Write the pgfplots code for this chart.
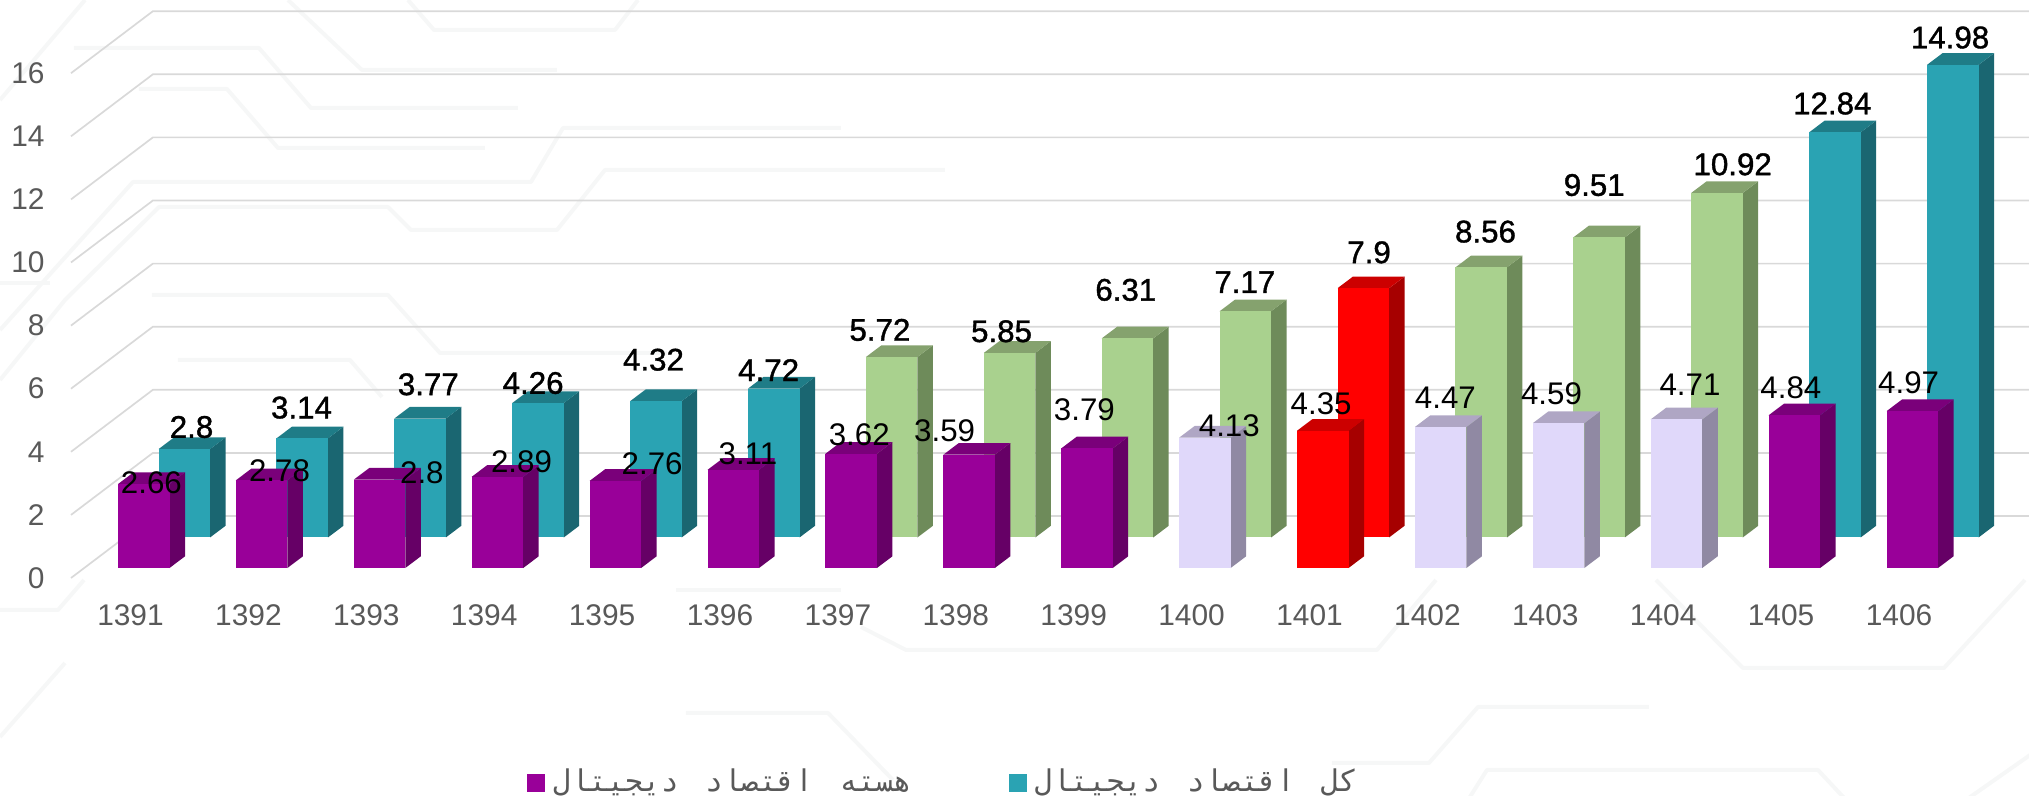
\documentclass[border=0pt]{standalone}
\usepackage{pgfplots}
\usepackage{pgfplotstable}
\usepackage{fontspec}
\pgfplotsset{compat=1.18}
\setmainfont{Liberation Sans}
\newfontfamily\fbold[FakeBold=1.2]{Liberation Sans}
\newfontfamily\arabicfont[Script=Arabic,WordSpace=1.47]{DejaVu Sans Mono}
\TeXXeTstate=1
% colours: F front, S side, T top
\definecolor{pF}{HTML}{990099}\definecolor{pS}{HTML}{660066}\definecolor{pT}{HTML}{7A007A}
\definecolor{tF}{HTML}{2AA3B3}\definecolor{tS}{HTML}{1A6671}\definecolor{tT}{HTML}{1F7C87}
\definecolor{gF}{HTML}{A9D18E}\definecolor{gS}{HTML}{6E8B5A}\definecolor{gT}{HTML}{85A26E}
\definecolor{lF}{HTML}{E0D8FA}\definecolor{lS}{HTML}{9089A3}\definecolor{lT}{HTML}{AFA6C4}
\definecolor{rF}{HTML}{FF0000}\definecolor{rS}{HTML}{A60000}\definecolor{rT}{HTML}{CC0000}
\definecolor{gridc}{HTML}{D9D9D9}
\definecolor{txt}{HTML}{595959}
\definecolor{bgl}{HTML}{F6F7F7}
% i value colour labelx labely (label centres in px of the 1568-wide view)
\pgfplotstableread{
i v c lx ly
0 2.66 p 117 373
1 2.78 p 216 364
2 2.8 p 326 365
3 2.89 p 403 357
4 2.76 p 504 358
5 3.11 p 578 351
6 3.62 p 664 336
7 3.59 p 730 333
8 3.79 p 838 317
9 4.13 l 950 329
10 4.35 r 1021 312
11 4.47 l 1117 307
12 4.59 l 1199 304
13 4.71 l 1306 297
14 4.84 p 1384 300
15 4.97 p 1475 296
}\core
\pgfplotstableread{
i v c lx ly
0 2.8 t 148 330
1 3.14 t 233 315
2 3.77 t 331 297
3 4.26 t 412 296
4 4.32 t 505 278
5 4.72 t 594 286
6 5.72 g 680 255
7 5.85 g 774 256
8 6.31 g 870 224
9 7.17 g 962 218
10 7.9 r 1058 195
11 8.56 g 1148 179
12 9.51 g 1232 143
13 10.92 g 1339 127
14 12.84 t 1416 80
15 14.98 t 1507 29
}\total
% one 3-D bar: #1 table, #2 row, #3 left offset, #4 base height
\newcommand\threedbar[4]{%
  \pgfplotstablegetelem{#2}{v}\of#1\let\bv\pgfplotsretval
  \pgfplotstablegetelem{#2}{c}\of#1\let\bc\pgfplotsretval
  \pgfmathsetmacro\xa{#2+#3}\pgfmathsetmacro\xb{\xa+0.437}\pgfmathsetmacro\xc{\xb+0.1315}\pgfmathsetmacro\xd{\xa+0.1315}
  \pgfmathsetmacro\ya{#4}\pgfmathsetmacro\yb{#4+\bv}\pgfmathsetmacro\yc{\yb+0.371}\pgfmathsetmacro\yd{\ya+0.371}
  \edef\tmp{%
    \noexpand\addplot[draw=none,fill=\bc S,forget plot] coordinates {(\xb,\ya) (\xc,\yd) (\xc,\yc) (\xb,\yb)};
    \noexpand\addplot[draw=none,fill=\bc T,forget plot] coordinates {(\xa,\yb) (\xd,\yc) (\xc,\yc) (\xb,\yb)};
    \noexpand\addplot[draw=none,fill=\bc F,forget plot] coordinates {(\xa,\ya) (\xb,\ya) (\xb,\yb) (\xa,\yb)};
  }\tmp}
\begin{document}
\begin{tikzpicture}
% faint circuit pattern of the slide background (reference pixels)
\begin{scope}[shift={(-35.5bp,289bp)},x=0.5bp,y=-0.5bp,draw=bgl,line width=2bp,line join=round]
\draw (74,48)--(259,48)--(311,108)--(518,108);
\draw (139,89)--(227,89)--(278,148)--(485,148);
\draw (288,0)--(362,70)--(557,70);
\draw (408,0)--(434,30)--(615,30)--(638,0);
\draw (841,128)--(563,128)--(531,182)--(133,182)--(60,263)--(0,330);
\draw (945,170)--(605,170)--(557,230)--(411,230)--(388,207)--(159,207)--(65,300)--(0,380);
\draw (152,295)--(388,295)--(440,353)--(667,353);
\draw (178,360)--(350,360)--(382,397);
\draw (85,0)--(0,100);
\draw (0,283)--(50,283);
\draw (676,590)--(841,590);
\draw (861,627)--(906,650)--(1377,650)--(1436,580);
\draw (686,713)--(828,713)--(893,780);
\draw (65,663)--(0,737);
\draw (0,610)--(58,610)--(84,580);
\draw (1656,580)--(1743,668)--(1944,668)--(2025,580);
\draw (1649,707)--(1478,707)--(1429,763)--(1332,763);
\draw (1468,800)--(1487,770)--(1818,770)--(1846,800);
\draw (1966,800)--(2033,753);
\end{scope}
\begin{axis}[name=a,scale only axis,width=979bp,height=289bp,
  xmin=-0.5047,xmax=16.1026,ymin=0,ymax=18.32,clip=false,
  axis line style={draw=none},major tick length=0pt,
  ytick={0,2,...,16},xtick={0,...,15},
  xticklabels={1391,1392,1393,1394,1395,1396,1397,1398,1399,1400,1401,1402,1403,1404,1405,1406},
  /pgf/number format/assume math mode=true,
  tick label style={font=\fontsize{15}{15}\selectfont,text=txt},
  yticklabel style={anchor=east,inner sep=0pt,xshift=-13bp},
  xticklabel style={anchor=north,inner sep=0pt,yshift=-13bp},
  legend columns=2,
  legend style={at={(axis cs:3.36,-6.5)},anchor=west,draw=none,fill=none,inner sep=0pt,
    font=\fontsize{15}{15}\selectfont,text=txt,
    /tikz/every even column/.style={column sep=46.5bp},
    /tikz/every odd column/.style={column sep=2bp}},
]
% grid: side wall and back wall
\pgfplotsinvokeforeach{0,2,...,16}{
  \pgfmathsetmacro\ga{#1}\pgfmathsetmacro\gb{#1+1.965}
  \edef\tmp{\noexpand\addplot[gridc,line width=0.85bp,forget plot] coordinates {(-0.5047,\ga) (0.19,\gb) (16.1026,\gb)};}\tmp
}
\pgfplotsinvokeforeach{0,...,15}{\threedbar{\total}{#1}{0.2375}{1.284}}
\pgfplotsinvokeforeach{0,...,15}{\threedbar{\core}{#1}{-0.106}{0.317}}
% data labels
\addplot[only marks,mark=none,forget plot,point meta=explicit symbolic,nodes near coords,
  nodes near coords style={anchor=center,inner sep=0pt,text=black,font=\fontsize{15.7}{16}\selectfont}]
  table[x expr={(\thisrow{lx}*1.294-130.5)/117.9},y expr={(578-\thisrow{ly}*1.294)/31.55},meta=v] {\core};
\addplot[only marks,mark=none,forget plot,point meta=explicit symbolic,nodes near coords,
  nodes near coords style={anchor=center,inner sep=0pt,text=black,font=\fbold\fontsize{15.7}{16}\selectfont}]
  table[x expr={(\thisrow{lx}*1.294-130.5)/117.9},y expr={(578-\thisrow{ly}*1.294)/31.55},meta=v] {\total};
\addlegendimage{legend image code/.code={\fill[pF] (0bp,-4.2bp) rectangle (8.5bp,4.2bp);}}
\addlegendentry{\raisebox{1bp}{\arabicfont\beginR هسته اقتصاد دیجیتال\endR}}
\addlegendimage{legend image code/.code={\fill[tF] (0bp,-4.2bp) rectangle (8.5bp,4.2bp);}}
\addlegendentry{\raisebox{1bp}{\arabicfont\beginR کل اقتصاد دیجیتال\endR}}
\end{axis}
\pgfresetboundingbox
\path ([shift={(-35.5bp,-109bp)}]a.south west) rectangle (a.north east);
\end{tikzpicture}
\end{document}
